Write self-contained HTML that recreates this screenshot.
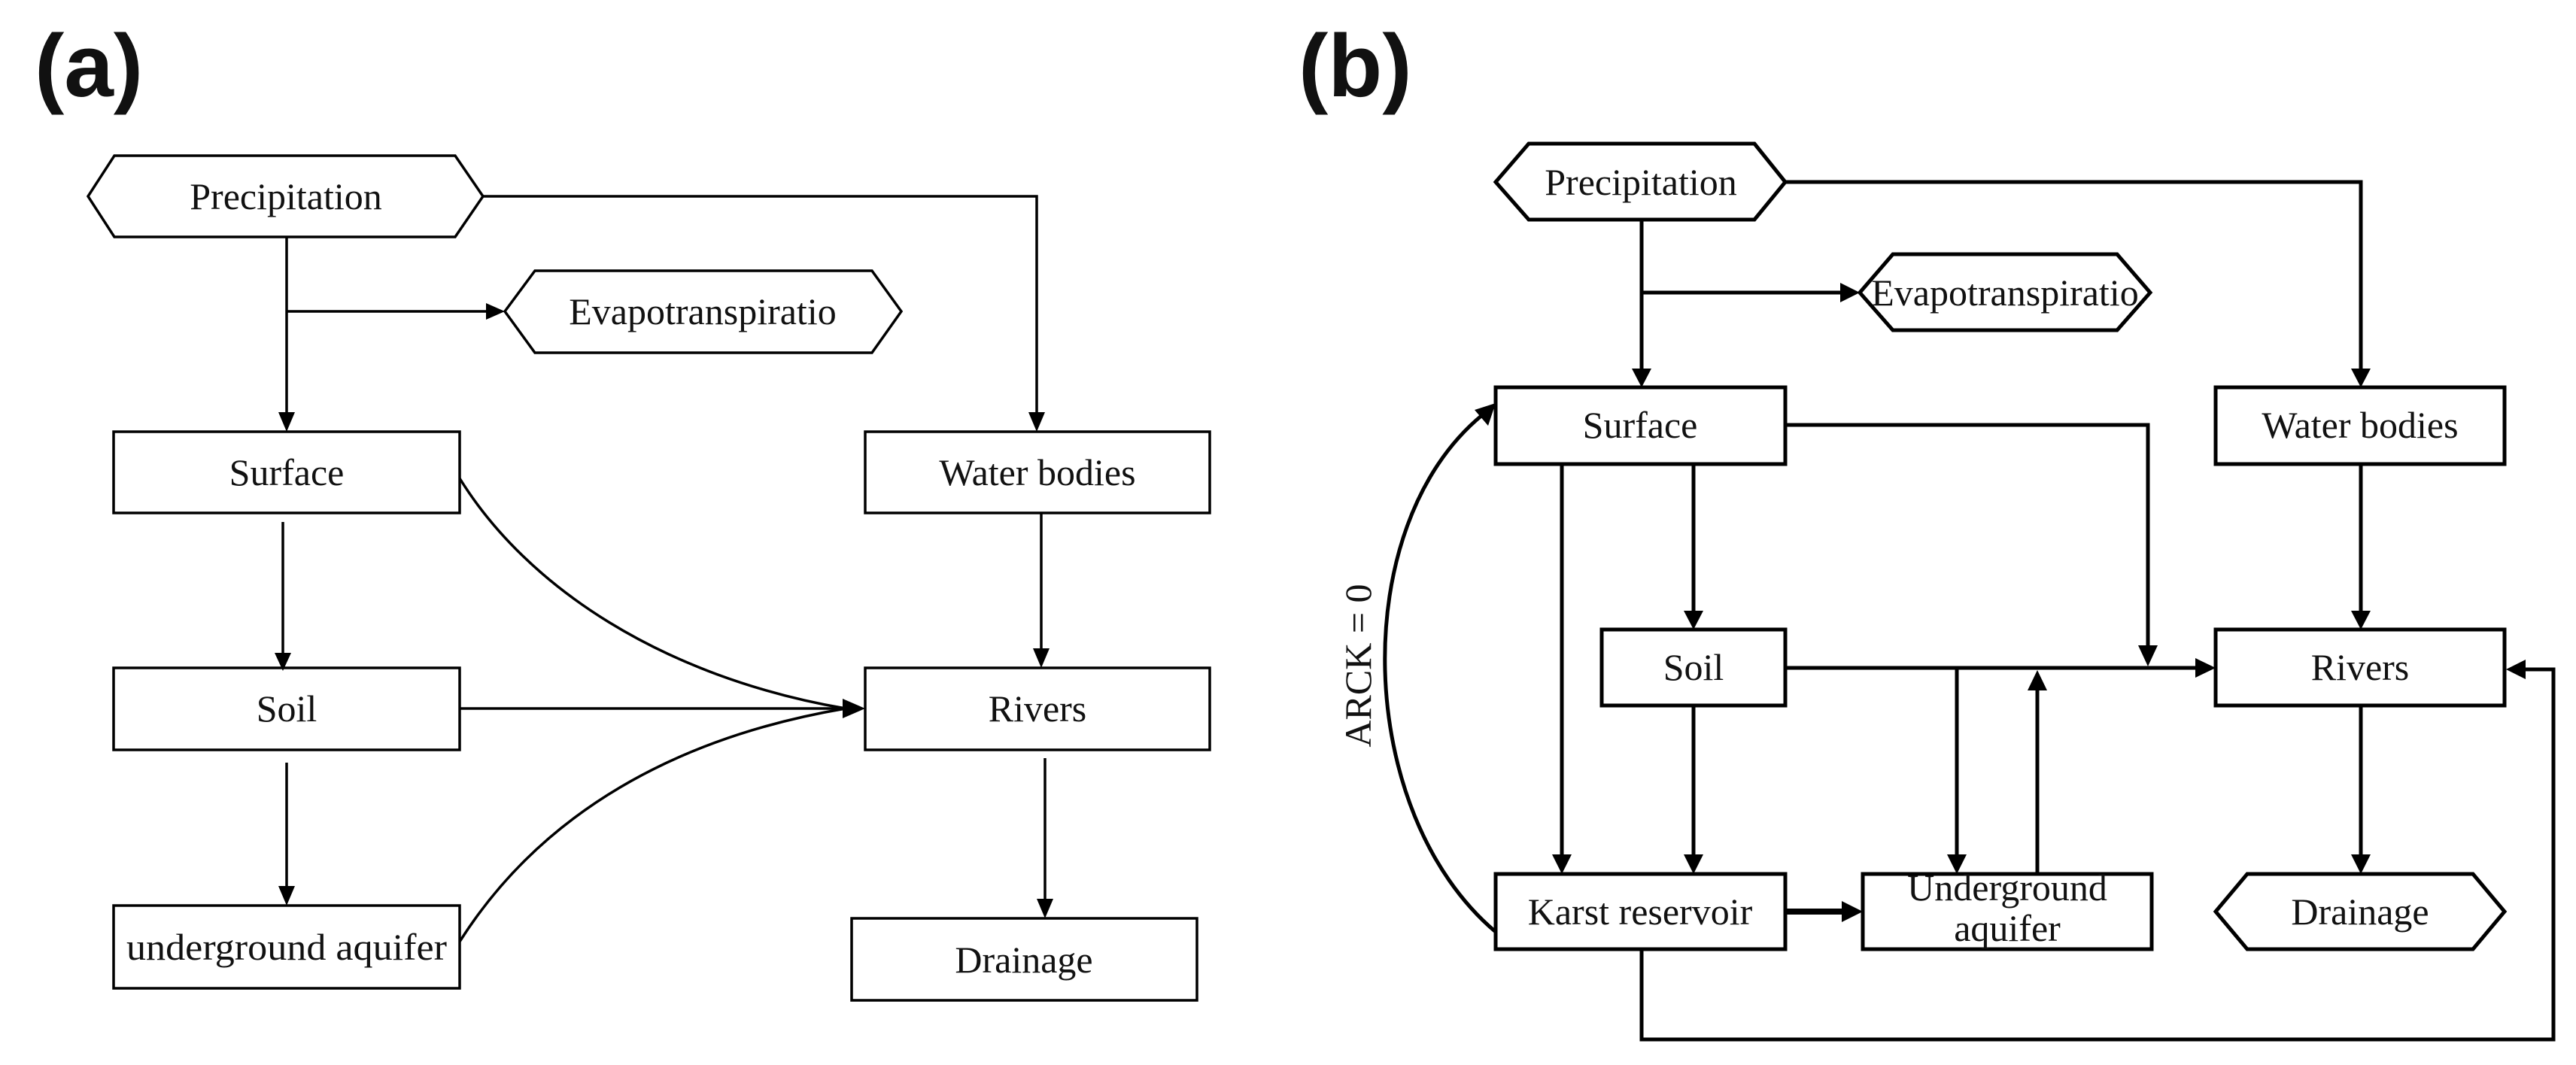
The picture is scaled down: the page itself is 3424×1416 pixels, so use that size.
<!DOCTYPE html>
<html><head><meta charset="utf-8"><style>
html,body{margin:0;padding:0;background:#fff;}
svg{display:block;}
text{font-family:"Liberation Serif",serif;fill:#111;}
</style></head><body>
<svg width="3424" height="1416" viewBox="0 0 3424 1416" xmlns="http://www.w3.org/2000/svg">
<text x="46" y="128" style="font-family:'Liberation Sans',sans-serif;font-weight:bold;font-size:118px">(a)</text>
<text x="1726" y="128" style="font-family:'Liberation Sans',sans-serif;font-weight:bold;font-size:118px">(b)</text>

<!-- Panel a -->
<g stroke="#000" stroke-width="3.5" fill="none">
<polygon points="117,261 152,207 605,207 642,261 605,315 152,315" fill="#fff"/>
<polygon points="671,414 711,360 1159,360 1198,414 1159,469 711,469" fill="#fff"/>
<rect x="151" y="574" width="460" height="108"/>
<rect x="1150" y="574" width="458" height="108"/>
<rect x="151" y="888" width="460" height="109"/>
<rect x="1150" y="888" width="458" height="109"/>
<rect x="151" y="1204" width="460" height="110"/>
<rect x="1132" y="1221" width="459" height="109"/>
</g>
<g fill="none" stroke="#000" stroke-width="3.5">
<path d="M642,261 H1378 V548"/>
<path d="M381,315 V548"/>
<path d="M381,414 H646"/>
<path d="M376,694 V868"/>
<path d="M381,1014 V1178"/>
<path d="M1384,682 V862"/>
<path d="M1389,1008 V1195"/>
<path d="M611,636 C700,780 880,900 1124,942"/>
<path d="M611,942 H1124"/>
<path d="M611,1252 C720,1080 900,980 1124,942"/>
</g>
<g fill="#000">
<path d="M1367,548 L1389,548 L1378,574 z"/>
<path d="M370,548 L392,548 L381,574 z"/>
<path d="M646,403 L646,425 L671,414 z"/>
<path d="M365,868 L387,868 L376,892 z"/>
<path d="M370,1178 L392,1178 L381,1204 z"/>
<path d="M1373,862 L1395,862 L1384,888 z"/>
<path d="M1378,1195 L1400,1195 L1389,1221 z"/>
<path d="M1120,929 L1120,955 L1150,942 z"/>
</g>
<g font-size="50" text-anchor="middle">
<text x="380" y="278">Precipitation</text>
<text x="934" y="431">Evapotranspiratio</text>
<text x="381" y="645">Surface</text>
<text x="1379" y="645">Water bodies</text>
<text x="381" y="959">Soil</text>
<text x="1379" y="959">Rivers</text>
<text x="381" y="1276" textLength="426" lengthAdjust="spacingAndGlyphs">underground aquifer</text>
<text x="1361" y="1293">Drainage</text>
</g>

<!-- Panel b -->
<g stroke="#000" stroke-width="5" fill="#fff">
<polygon points="1988,242 2032,191 2332,191 2373,242 2332,292 2032,292"/>
<polygon points="2472,389 2516,338 2814,338 2858,389 2814,439 2516,439"/>
<rect x="1988" y="515" width="385" height="102"/>
<rect x="2945" y="515" width="384" height="102"/>
<rect x="2129" y="837" width="244" height="101"/>
<rect x="2945" y="837" width="384" height="101"/>
<rect x="1988" y="1162" width="385" height="100"/>
<rect x="2476" y="1162" width="384" height="100"/>
<polygon points="2945,1212 2987,1162 3287,1162 3329,1212 3287,1262 2987,1262"/>
</g>
<g fill="none" stroke="#000" stroke-width="5">
<path d="M2373,242 H3138 V490"/>
<path d="M2182,292 V490"/>
<path d="M2182,389 H2446"/>
<path d="M2373,565 H2855 V862"/>
<path d="M2076,617 V1136"/>
<path d="M2251,617 V812"/>
<path d="M2251,938 V1136"/>
<path d="M2373,888 H2918"/>
<path d="M2601,888 V1136"/>
<path d="M2708,1162 V916"/>
<path d="M2373,1212 H2450" stroke-width="8"/>
<path d="M3138,617 V812"/>
<path d="M3138,938 V1136"/>
<path d="M2182,1262 V1382 H3394 V890 H3355"/>
<path d="M1988,1239 C1800,1080 1790,700 1970,552"/>
</g>
<g fill="#000">
<path d="M3125,490 L3151,490 L3138,515 z"/>
<path d="M2169,490 L2195,490 L2182,515 z"/>
<path d="M2446,376 L2446,402 L2472,389 z"/>
<path d="M2842,858 L2868,858 L2855,886 z"/>
<path d="M2063,1136 L2089,1136 L2076,1162 z"/>
<path d="M2238,812 L2264,812 L2251,837 z"/>
<path d="M2238,1136 L2264,1136 L2251,1162 z"/>
<path d="M2918,875 L2918,901 L2945,888 z"/>
<path d="M2588,1136 L2614,1136 L2601,1162 z"/>
<path d="M2695,918 L2721,918 L2708,891 z"/>
<path d="M2448,1198 L2448,1226 L2476,1212 z"/>
<path d="M3125,812 L3151,812 L3138,837 z"/>
<path d="M3125,1136 L3151,1136 L3138,1162 z"/>
<path d="M3357,877 L3357,903 L3331,890 z"/>
<path d="M1960,545 L1978,566 L1988,536 z"/>
</g>
<g font-size="50" text-anchor="middle">
<text x="2181" y="259">Precipitation</text>
<text x="2665" y="406">Evapotranspiratio</text>
<text x="2180" y="582">Surface</text>
<text x="3137" y="582">Water bodies</text>
<text x="2251" y="904">Soil</text>
<text x="3137" y="904">Rivers</text>
<text x="2180" y="1229">Karst reservoir</text>
<text x="2668" y="1197">Underground</text>
<text x="2668" y="1251">aquifer</text>
<text x="3137" y="1229">Drainage</text>
<text x="0" y="0" transform="translate(1822,885) rotate(-90)">ARCK = 0</text>
</g>
</svg>
</body></html>
